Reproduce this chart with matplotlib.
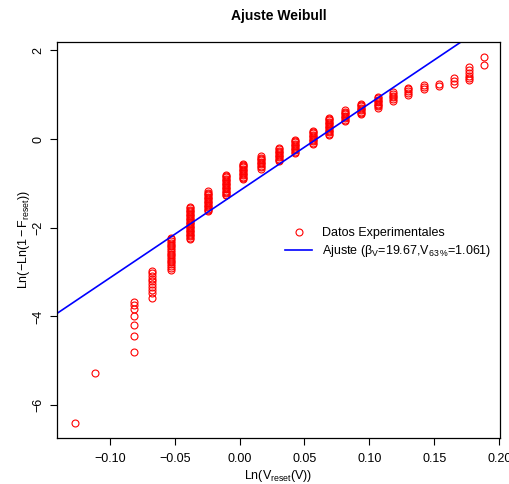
import numpy as np
import matplotlib
matplotlib.use("Agg")
import matplotlib.pyplot as plt

plt.rcParams["font.family"] = ["Liberation Sans", "DejaVu Sans"]
plt.rcParams["mathtext.fontset"] = "custom"
plt.rcParams["mathtext.rm"] = "Liberation Sans"
plt.rcParams["mathtext.it"] = "Liberation Sans"
plt.rcParams["mathtext.bf"] = "Liberation Sans:bold"

# Weibull plot data: ln(V_reset) column positions and the ln(-ln(1-F)) values in each
x_cols = [-0.127, -0.1115, -0.0815, -0.0672, -0.0525, -0.0385, -0.0243, -0.0108,
          0.003, 0.0167, 0.030, 0.043, 0.0565, 0.0688, 0.0815, 0.0936, 0.1065,
          0.118, 0.130, 0.1423, 0.1538, 0.1654, 0.177, 0.1885]
y_cols = [
    [-6.41],
    [-5.285],
    [-3.67, -3.74, -3.82, -3.99, -4.20, -4.44, -4.79],
    [-2.98, -3.03, -3.09, -3.15, -3.21, -3.27, -3.33, -3.40, -3.48, -3.58],
    [-2.22, -2.26, -2.30, -2.34, -2.38, -2.42, -2.46, -2.50, -2.54, -2.58,
     -2.62, -2.66, -2.70, -2.74, -2.78, -2.82, -2.86, -2.90, -2.95],
    [-1.53, -1.56, -1.59, -1.62, -1.65, -1.68, -1.71, -1.74, -1.77, -1.80,
     -1.83, -1.86, -1.89, -1.92, -1.95, -1.98, -2.01, -2.04, -2.07, -2.10,
     -2.13, -2.16, -2.19, -2.22, -2.26],
    [-1.18, -1.21, -1.24, -1.27, -1.30, -1.33, -1.36, -1.39, -1.42, -1.45,
     -1.48, -1.51, -1.54, -1.57, -1.60, -1.63],
    [-0.80, -0.83, -0.86, -0.89, -0.92, -0.95, -0.98, -1.01, -1.04, -1.07,
     -1.10, -1.13, -1.16, -1.19, -1.22, -1.25, -1.27],
    [-0.55, -0.58, -0.61, -0.64, -0.67, -0.70, -0.73, -0.76, -0.79, -0.82,
     -0.85, -0.88, -0.90],
    [-0.39, -0.42, -0.45, -0.48, -0.51, -0.54, -0.57, -0.60, -0.63, -0.67],
    [-0.20, -0.23, -0.26, -0.29, -0.32, -0.35, -0.38, -0.41, -0.44, -0.47, -0.50],
    [-0.01, -0.04, -0.07, -0.10, -0.13, -0.16, -0.19, -0.22, -0.25, -0.28, -0.31],
    [0.19, 0.16, 0.13, 0.10, 0.07, 0.04, 0.01, -0.02, -0.05, -0.08, -0.11],
    [0.48, 0.45, 0.42, 0.39, 0.36, 0.33, 0.30, 0.27, 0.24, 0.21, 0.18, 0.15,
     0.12, 0.10],
    [0.65, 0.62, 0.59, 0.56, 0.53, 0.50, 0.47, 0.44, 0.40],
    [0.80, 0.77, 0.74, 0.71, 0.68, 0.65, 0.62, 0.59, 0.56],
    [0.95, 0.92, 0.89, 0.86, 0.83, 0.80, 0.77, 0.74, 0.71],
    [1.06, 1.02, 0.98, 0.94, 0.90, 0.87],
    [1.16, 1.12, 1.08, 1.04, 1.00],
    [1.21, 1.17, 1.13],
    [1.25, 1.19],
    [1.37, 1.31, 1.25],
    [1.62, 1.55, 1.49, 1.43, 1.38, 1.33],
    [1.86, 1.68],
]

beta = 19.67
v63 = 1.061

x_ticks = [-0.10, -0.05, 0.00, 0.05, 0.10, 0.15, 0.20]
y_ticks = [-6, -4, -2, 0, 2]

xs = np.concatenate([[x] * len(ys) for x, ys in zip(x_cols, y_cols)])
ys = np.concatenate(y_cols)

fig = plt.figure(figsize=(5.09, 4.84), dpi=100, facecolor="white")
ax = fig.add_axes([57 / 509, 46 / 484, 443 / 509, 396 / 484])

ax.plot(xs, ys, "o", ls="none", mfc="none", mec="red", ms=5, mew=0.8,
        label="Datos Experimentales")

xlo, xhi = -0.1406, 0.2006
xl = np.array([xlo, xhi])
ax.plot(xl, beta * (xl - np.log(v63)), color="blue", lw=1.2,
        label=r"Ajuste ($\beta_V$=19.67,V$_{63\,\%}$=1.061)")

ax.set_xlim(xlo, xhi)
ax.set_ylim(-6.74, 2.19)
ax.set_xticks(x_ticks)
ax.set_xticklabels([f"{t:.2f}".replace("-", "\u2212") for t in x_ticks])
ax.set_yticks(y_ticks)
ax.set_yticklabels([str(t).replace("-", "\u2212") for t in y_ticks],
                   rotation=90, va="center")
ax.tick_params(direction="out", length=5, width=0.8, labelsize=9)
ax.tick_params(axis="x", pad=6)
ax.tick_params(axis="y", pad=4)
for s in ax.spines.values():
    s.set_linewidth(0.9)

ax.set_xlabel(r"Ln$(\mathrm{V_{reset}(V)})$", fontsize=9, labelpad=2)
ax.set_ylabel(r"Ln$(-$Ln$(1-$F$_{\mathrm{reset}}))$", fontsize=9, labelpad=0)
ax.set_title("Ajuste Weibull", fontsize=10, fontweight="bold", pad=16)

ax.legend(loc="upper left", bbox_to_anchor=(0.489, 0.56), frameon=False,
          fontsize=9, handlelength=2.2, handletextpad=0.8, labelspacing=0.3)

fig.savefig("out.png", dpi=100)
